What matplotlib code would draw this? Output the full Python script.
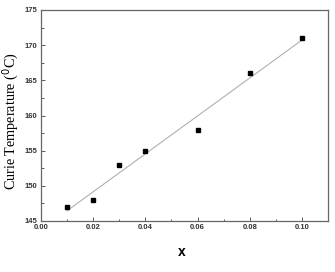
import numpy as np
import matplotlib.pyplot as plt
from matplotlib.ticker import MultipleLocator

# Data
x = [0.01, 0.02, 0.03, 0.04, 0.06, 0.08, 0.10]
tc = [147, 148, 153, 155, 158, 166, 171]

fig = plt.figure(figsize=(3.35, 2.72), dpi=100)
ax = fig.add_axes([41 / 335, 1 - 221 / 272, (328 - 41) / 335, (221 - 10) / 272])

# linear fit
slope, icpt = np.polyfit(x, tc, 1)
xf = np.array([x[0], x[-1]])
ax.plot(xf, slope * xf + icpt, color="#b0b0b0", lw=0.8)
ax.plot(x, tc, "s", color="black", ms=3.3)

ax.set_xlim(0, 0.11)
ax.set_ylim(145, 175)
ax.xaxis.set_minor_locator(MultipleLocator(0.01))
ax.yaxis.set_major_locator(MultipleLocator(5))
ax.yaxis.set_minor_locator(MultipleLocator(2.5))
ax.set_xticks([0, 0.02, 0.04, 0.06, 0.08, 0.10])
ax.set_xticklabels(["0.00", "0.02", "0.04", "0.06", "0.08", "0.10"])
ax.tick_params(which="both", direction="in", labelsize=5.5, width=0.6,
               colors="#444444", labelcolor="#333333")
ax.tick_params(which="major", length=3, pad=2.5)
ax.tick_params(which="minor", length=1.8)
for lbl in ax.get_xticklabels() + ax.get_yticklabels():
    lbl.set_family("Liberation Sans")
    lbl.set_fontweight("bold")
for s in ax.spines.values():
    s.set_color("#666666")
    s.set_linewidth(0.9)

ax.set_xlabel("x", family="Liberation Sans", fontweight="bold", fontsize=10)
ax.xaxis.set_label_coords(0.49, -0.115)
ax.set_ylabel("Curie Temperature ($^{0}$C)", family="Liberation Serif", fontsize=10.2)
ax.yaxis.set_label_coords(-0.07, 0.475)

fig.savefig("out.png", dpi=100)
